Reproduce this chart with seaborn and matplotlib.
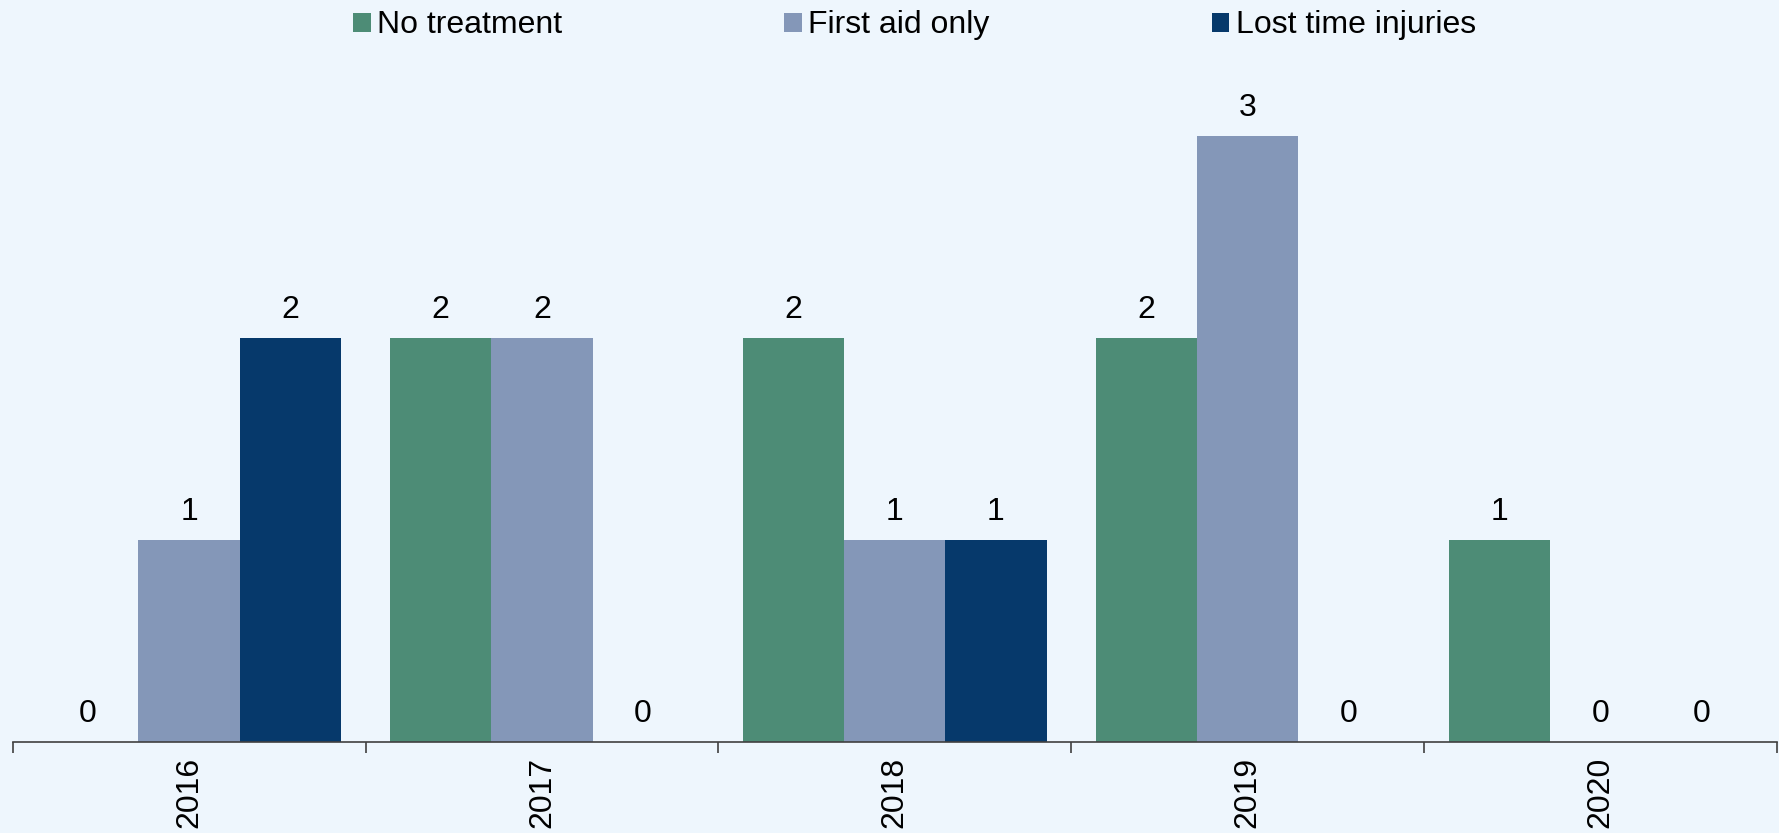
import pandas as pd
import seaborn as sns
import matplotlib.pyplot as plt
from matplotlib.patches import Patch

# データ
years = ["2016", "2017", "2018", "2019", "2020"]
no_treatment = [0, 2, 2, 2, 1]
first_aid_only = [1, 2, 1, 3, 0]
lost_time = [2, 0, 1, 0, 0]
series_names = ["No treatment", "First aid only", "Lost time injuries"]
colors = ["#4D8C76", "#8497B8", "#06396B"]
bg = "#EEF6FD"

df = pd.DataFrame({
    "Year": years * 3,
    "Count": no_treatment + first_aid_only + lost_time,
    "Type": [s for s in series_names for _ in years],
})

sns.set_style("white")
plt.rcParams['font.family'] = ['Liberation Sans', 'DejaVu Sans']
plt.rcParams['text.color'] = 'black'
plt.rcParams['xtick.color'] = '#404040'
plt.rcParams['xtick.labelcolor'] = 'black'

fig = plt.figure(figsize=(17.79, 8.33), dpi=100, facecolor=bg)
ax = fig.add_axes([0.0071, 0.1095, 0.9918, 0.8487])
ax.set_facecolor(bg)

sns.barplot(data=df, x="Year", y="Count", hue="Type", order=years,
            hue_order=series_names, palette=colors, width=0.86,
            saturation=1, errorbar=None, ax=ax, legend=False, linewidth=0)

for c in ax.containers:
    ax.bar_label(c, fmt="%d", padding=9, fontsize=23, color="black")

ax.set_ylim(0, 3.5)
ax.set_xlim(-0.5, 4.5)
ax.set_yticks([])
ax.set_xlabel("")
ax.set_ylabel("")
for s in ["top", "left", "right"]:
    ax.spines[s].set_visible(False)
ax.spines["bottom"].set_color("#404040")
ax.spines["bottom"].set_linewidth(1.2)

# 目盛り: 区切り位置に下向きの線、ラベルは中央
ax.set_xticks(range(len(years)))
ax.set_xticklabels(years, rotation=90, fontsize=23)
ax.tick_params(axis="x", which="major", length=0, pad=11, bottom=True)
ax.set_xticks([i - 0.5 for i in range(len(years) + 1)], minor=True)
ax.tick_params(axis="x", which="minor", length=8, width=1.2, color="#404040",
               direction="out", bottom=True)

handles = [Patch(facecolor=c, edgecolor="none") for c in colors]
fig.legend(handles, series_names, loc="upper center", bbox_to_anchor=(0.514, 1.022),
           ncol=3, frameon=False, fontsize=23, handlelength=0.55, handleheight=0.55,
           handletextpad=0.2, columnspacing=6.95)

plt.savefig("out.png", dpi=100, facecolor=bg)
plt.close()
